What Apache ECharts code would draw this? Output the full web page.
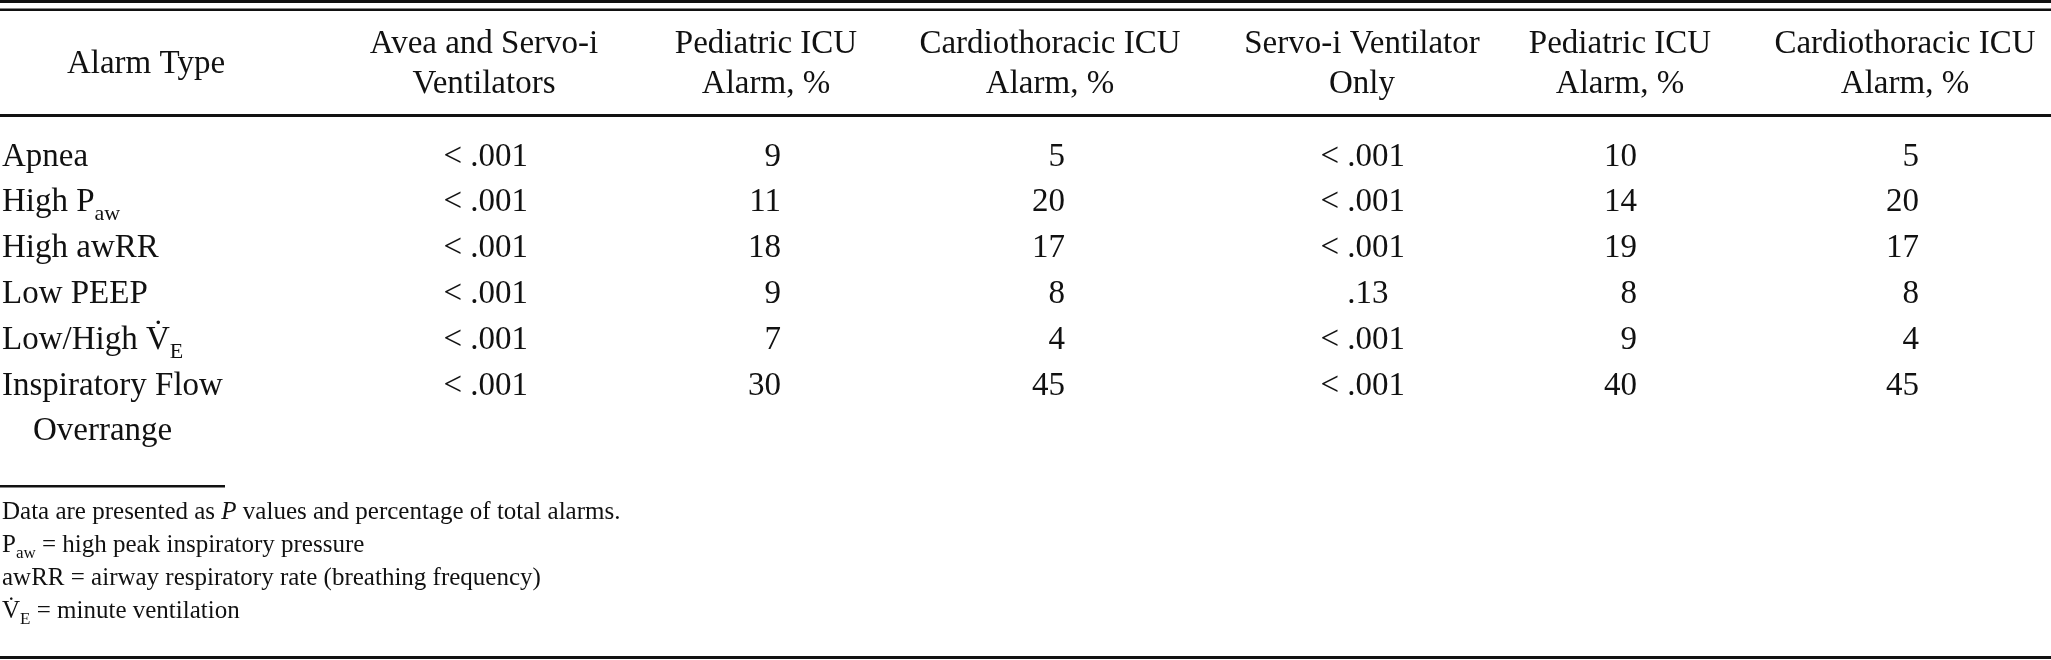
<!DOCTYPE html>
<html>
<head>
<meta charset="utf-8">
<script src="https://cdn.jsdelivr.net/npm/echarts@6/dist/echarts.min.js"></script>
<style>
html, body { margin: 0; padding: 0; background: #fff; }
#chart { width: 2051px; height: 660px; }
</style>
</head>
<body>
<div id="chart"></div>
<script>
// table content
var alarmTypes = ['Apnea', 'High Paw', 'High awRR', 'Low PEEP', 'Low/High VE', 'Inspiratory Flow Overrange'];
var pBoth = ['< .001', '< .001', '< .001', '< .001', '< .001', '< .001'];
var pedBoth = [9, 11, 18, 9, 7, 30];
var cardioBoth = [5, 20, 17, 8, 4, 45];
var pServo = ['< .001', '< .001', '< .001', '.13', '< .001', '< .001'];
var pedServo = [10, 14, 19, 8, 9, 40];
var cardioServo = [5, 20, 17, 8, 4, 45];
var headers = ['Alarm Type', 'Avea and Servo-i\nVentilators', 'Pediatric ICU\nAlarm, %', 'Cardiothoracic ICU\nAlarm, %',
  'Servo-i Ventilator\nOnly', 'Pediatric ICU\nAlarm, %', 'Cardiothoracic ICU\nAlarm, %'];
var notes = [
  'Data are presented as {it|P} values and percentage of total alarms.',
  'P{fsub|aw} = high peak inspiratory pressure',
  'awRR = airway respiratory rate (breathing frequency)',
  'V\u0307{fsub|E} = minute ventilation'
];
// how some row names are typeset (subscripts, wrapped line)
var rowLabelText = {
  'High Paw': 'High P{sub|aw}',
  'Low/High VE': 'Low/High V\u0307{sub|E}',
  'Inspiratory Flow Overrange': 'Inspiratory Flow\n{ind|\u00a0}Overrange'
};

// layout
var W = 2051, H = 660;
var FONT = '"Liberation Serif", "Times New Roman", serif';
var INK = '#111';
var rowH = 45.8, firstRow = 157;
var headerX = [146, 484, 766, 1050, 1362, 1620, 1905];
var cellX = [2, 528, 781, 1065, 1405, 1637, 1919];

var rich = {
  sub: { fontSize: 22, lineHeight: 27, verticalAlign: 'bottom', fontFamily: FONT, color: INK },
  ind: { width: 31, fontSize: 33, fontFamily: FONT, color: INK },
  pad: { fontSize: 33, fontFamily: FONT, color: 'rgba(0,0,0,0)' }
};

function cellText(c, v) {
  if (c === 0) return rowLabelText[v] || v;
  if (v === '.13') return '.13{pad|0}'; // line the decimal point up with .001
  return String(v);
}

var columns = [alarmTypes, pBoth, pedBoth, cardioBoth, pServo, pedServo, cardioServo];
var series = columns.map(function (col, c) {
  return {
    type: 'scatter',
    symbolSize: 0,
    silent: true,
    itemStyle: { color: INK, opacity: 1 },
    data: col.map(function (v, i) { return [cellX[c], alarmTypes[i]]; }),
    label: {
      show: true,
      position: 'inside',
      align: c === 0 ? 'left' : 'right',
      verticalAlign: 'top',
      offset: [0, -rowH / 2],
      lineHeight: rowH,
      fontSize: 33,
      fontFamily: FONT,
      color: INK,
      opacity: 1,
      textBorderWidth: 0,
      textBorderColor: 'transparent',
      rich: rich,
      formatter: function (p) { return cellText(c, col[p.dataIndex]); }
    }
  };
});

var graphics = [];
// rules
[[0, 0, W, 3], [0, 8.5, W, 2.5], [0, 114, W, 3], [0, 485, 225, 2.5], [0, 656, W, 3]].forEach(function (r) {
  graphics.push({ type: 'rect', shape: { x: r[0], y: r[1], width: r[2], height: r[3] }, style: { fill: INK }, silent: true });
});
// column headers
headers.forEach(function (h, i) {
  graphics.push({
    type: 'text', silent: true,
    style: { text: h, x: headerX[i], y: 64.5, align: 'center', verticalAlign: 'middle', lineHeight: 40,
      fontSize: 33, fontFamily: FONT, fill: INK }
  });
});
// footnotes
notes.forEach(function (n, i) {
  graphics.push({
    type: 'text', silent: true,
    style: {
      text: n, x: 2, y: 512 + i * 33.3, align: 'left', verticalAlign: 'middle', lineHeight: 33,
      fontSize: 25, fontFamily: FONT, fill: INK,
      rich: {
        it: { fontStyle: 'italic', fontSize: 25, fontFamily: FONT, fill: INK },
        fsub: { fontSize: 17, lineHeight: 19, verticalAlign: 'bottom', fontFamily: FONT, fill: INK }
      }
    }
  });
});

var option = {
  animation: false,
  backgroundColor: '#fff',
  grid: { left: 0, right: 0, top: firstRow - rowH / 2, height: rowH * alarmTypes.length, outerBoundsMode: 'none' },
  xAxis: { type: 'value', min: 0, max: W, show: false },
  yAxis: { type: 'category', data: alarmTypes, inverse: true, show: false },
  graphic: graphics,
  series: series
};

var myChart = echarts.init(document.getElementById('chart'), null, { renderer: 'canvas' });
myChart.setOption(option);
</script>
</body>
</html>
